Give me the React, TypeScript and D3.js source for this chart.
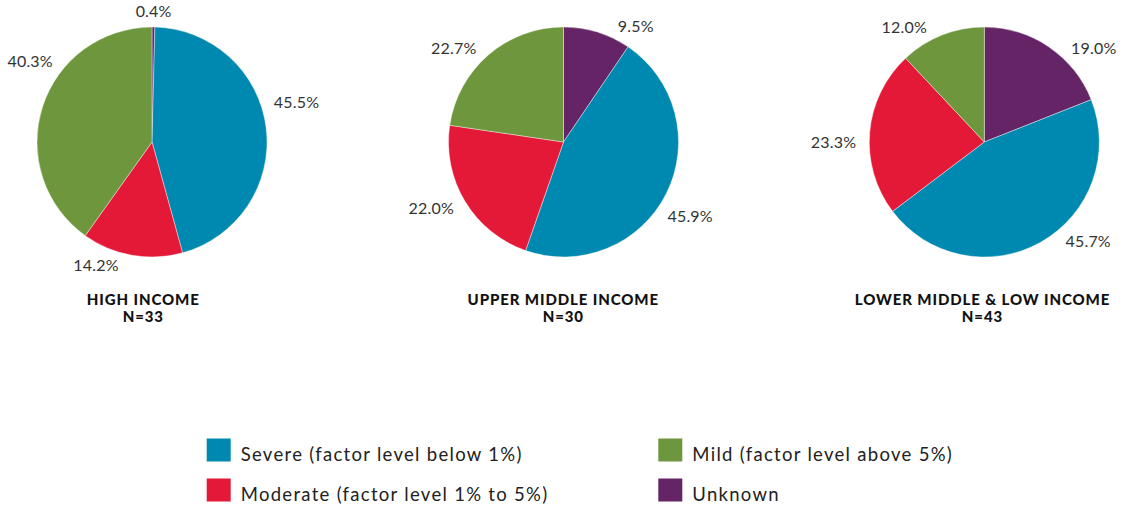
import React, { useEffect } from "react";
import * as d3 from "d3";

const width = 1125;
const height = 505;

// data
const groups = ["HIGH INCOME", "UPPER MIDDLE INCOME", "LOWER MIDDLE & LOW INCOME"];
const groupN = [33, 30, 43];
const categories = ["Severe", "Moderate", "Mild", "Unknown"];
const legendLabels = [
  "Severe (factor level below 1%)",
  "Moderate (factor level 1% to 5%)",
  "Mild (factor level above 5%)",
  "Unknown",
];
const severe = [45.5, 45.9, 45.7];
const moderate = [14.2, 22.0, 23.3];
const mild = [40.3, 22.7, 12.0];
const unknown = [0.4, 9.5, 19.0];

// slices are drawn clockwise from 12 o'clock in this order
const sliceOrder = ["Unknown", "Severe", "Moderate", "Mild"];

const colors: Record<string, string> = {
  Severe: "#0089b0",
  Moderate: "#e31937",
  Mild: "#6e963c",
  Unknown: "#652466",
};

// layout
const centersX = [152, 563.5, 984.3];
const centerY = 142;
const radius = 115;
const labelRadius = 128;
const titleX = [143.3, 563.3, 982.5];
// angular nudge (degrees) of each outside label, in sliceOrder, per pie
const labelNudge = [
  [0, -11, 5, 21.5],
  [8, 9, 0, -2],
  [8.5, -10, -5, -5],
];

const font = "Lato, 'Open Sans', sans-serif";

function valuesFor(i: number) {
  const byCat: Record<string, number> = {
    Severe: severe[i],
    Moderate: moderate[i],
    Mild: mild[i],
    Unknown: unknown[i],
  };
  return sliceOrder.map((c) => ({ cat: c, value: byCat[c] }));
}

const pie = d3
  .pie<{ cat: string; value: number }>()
  .sort(null)
  .value((d) => d.value);
const arc = d3
  .arc<d3.PieArcDatum<{ cat: string; value: number }>>()
  .innerRadius(0)
  .outerRadius(radius);

function PieChart({ i }: { i: number }) {
  const slices = pie(valuesFor(i));
  return (
    <g transform={`translate(${centersX[i]},${centerY})`}>
      {slices.map((s) => (
        <path
          key={s.data.cat}
          d={arc(s) || ""}
          fill={colors[s.data.cat]}
          stroke="#fff"
          strokeWidth={0.4}
        />
      ))}
      {slices.map((s, j) => {
        const mid = (s.startAngle + s.endAngle) / 2;
        const a = mid + (labelNudge[i][j] * Math.PI) / 180;
        const sx = Math.sin(a);
        const cy = -Math.cos(a);
        const x = labelRadius * sx;
        let y = labelRadius * cy;
        let anchor = "middle";
        if (sx > 0.25) anchor = "start";
        else if (sx < -0.25) anchor = "end";
        else y += cy * 3;
        return (
          <text
            key={"l" + s.data.cat}
            x={x}
            y={y}
            dy="0.36em"
            textAnchor={anchor}
            fontFamily={font}
            fontSize={16}
            letterSpacing={0.2}
            fill="#333"
          >
            {s.data.value.toFixed(1) + "%"}
          </text>
        );
      })}
    </g>
  );
}

export default function App() {
  useEffect(() => {
    document.body.style.margin = "0";
  }, []);

  const legendX = [206.7, 658.3];
  const legendY = [438.5, 478.5];

  return (
    <svg width={width} height={height} style={{ display: "block", background: "#fff" }}>
      {groups.map((g, i) => (
        <PieChart key={g} i={i} />
      ))}
      {groups.map((g, i) => (
        <g key={"t" + g}>
          <text
            x={titleX[i]}
            y={305}
            textAnchor="middle"
            fontFamily={font}
            fontWeight={900}
            fontSize={15}
            letterSpacing={0.9}
            fill="#111"
          >
            {g}
          </text>
          <text
            x={titleX[i]}
            y={321.7}
            textAnchor="middle"
            fontFamily={font}
            fontWeight={900}
            fontSize={15}
            letterSpacing={0.9}
            fill="#111"
          >
            {"N=" + groupN[i]}
          </text>
        </g>
      ))}
      {categories.map((c, k) => {
        const col = k < 2 ? 0 : 1;
        const row = k % 2;
        const x = legendX[col];
        const y = legendY[row];
        return (
          <g key={"lg" + c}>
            <rect x={x} y={y} width={24} height={23} fill={colors[c]} />
            <text
              x={x + 34}
              y={y + 22}
              fontFamily={font}
              fontSize={18.5}
              letterSpacing={1.3}
              fill="#222"
            >
              {legendLabels[k]}
            </text>
          </g>
        );
      })}
    </svg>
  );
}
